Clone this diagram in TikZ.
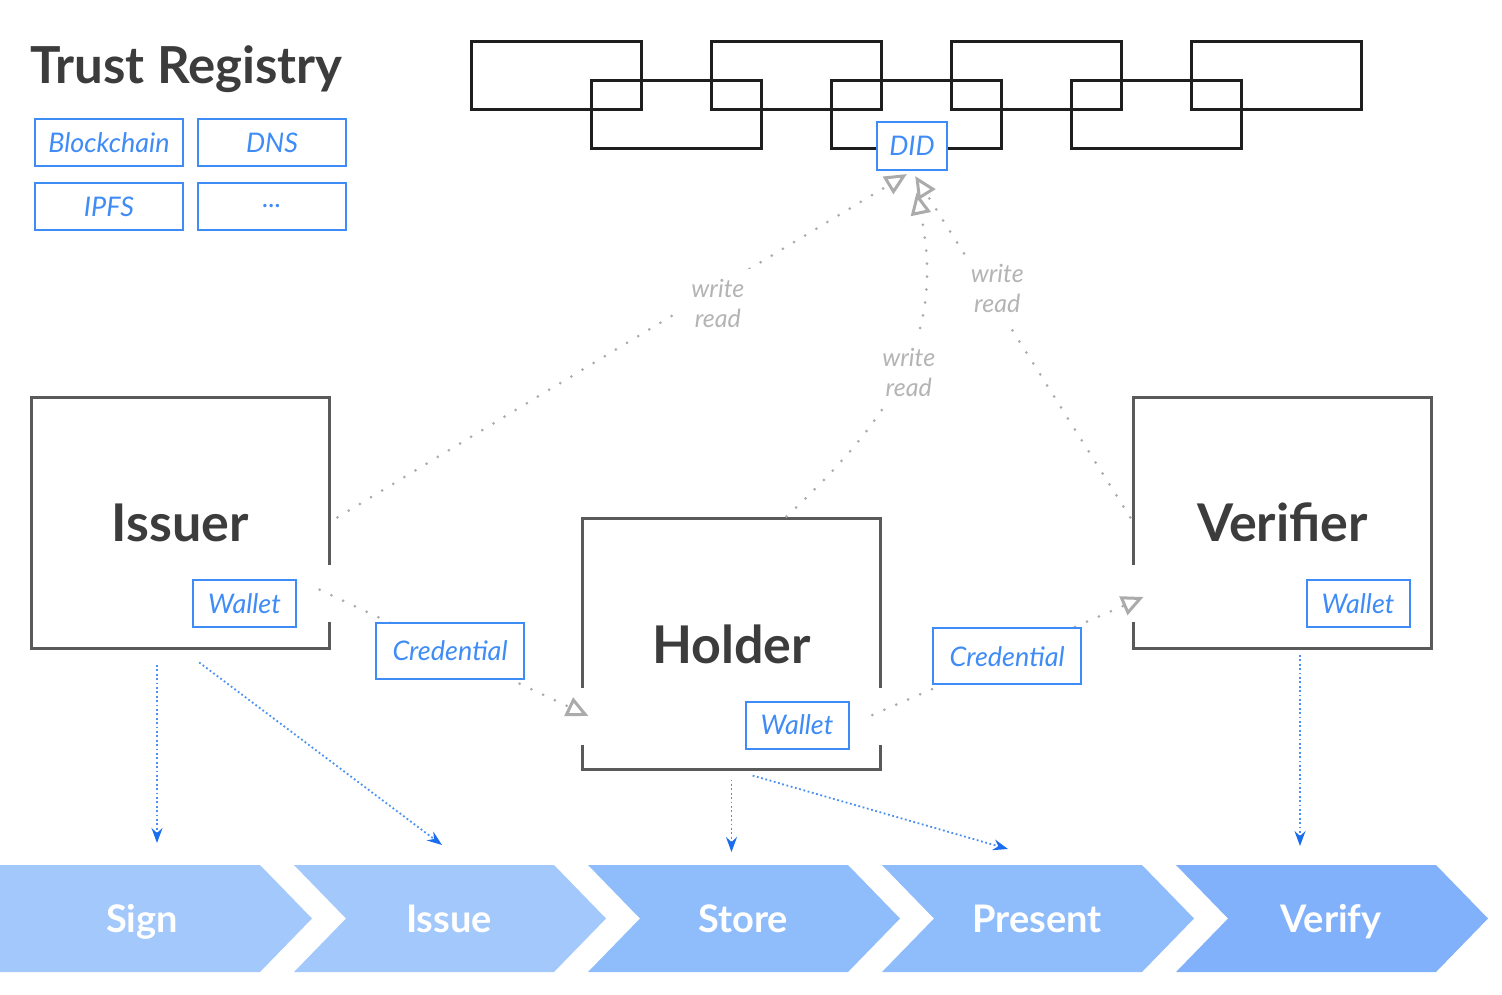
\documentclass[tikz,border=0pt]{standalone}
\usepackage{fontspec}
\setmainfont{Lato}
\usetikzlibrary{arrows.meta, positioning, calc}

\definecolor{regblue}{HTML}{3F8CF6}
\definecolor{framegray}{HTML}{5A5A5A}
\definecolor{blockgray}{HTML}{1E1E1E}
\definecolor{titlegray}{HTML}{3C3C3C}
\definecolor{dotgray}{HTML}{ABABAB}
\definecolor{labelgray}{HTML}{B4B4B4}
\definecolor{arrowblue}{HTML}{1A6EEE}
\definecolor{dotblue}{HTML}{4A90F2}
\definecolor{chevA}{HTML}{A3C8FC}
\definecolor{chevB}{HTML}{8FBCFB}
\definecolor{chevC}{HTML}{80B1FA}

\begin{document}
\begin{tikzpicture}[
    x=1pt, y=-1pt,
    % Styles
    registrytitle/.style={font=\bfseries\fontsize{51}{55}\selectfont, text=titlegray, inner sep=0pt},
    party/.style={minimum width=298pt, minimum height=251pt, outer sep=0pt,
                  font=\bfseries\fontsize{52}{56}\selectfont, text=titlegray},
    boxframe/.style={draw=framegray, line width=3pt},
    blockline/.style={draw=blockgray, line width=3pt},
    tag/.style={draw=regblue, solid, line width=2pt, fill=white, text=regblue, inner sep=0pt,
                font=\itshape\fontsize{27}{30}\selectfont},
    regtag/.style={tag, minimum width=148pt, minimum height=47pt},
    wallet/.style={tag, minimum width=103pt, minimum height=47pt},
    cred/.style={tag, minimum width=148pt, minimum height=56pt},
    rwline/.style={draw=dotgray, line width=3pt, line cap=round, dash pattern=on 0pt off 13pt,
                   -{Triangle[open, length=22pt, width=20pt, line width=3pt]}},
    rwlabel/.style={fill=white, text=labelgray, align=center, inner sep=10pt,
                    font=\itshape\fontsize{25}{30}\selectfont},
    flowline/.style={draw=dotblue, line width=1.8pt, dash pattern=on 1.8pt off 2.6pt,
                     -{Stealth[length=15pt, width=11pt, inset=5pt, arrowblue]}},
    steptext/.style={font=\bfseries\fontsize{38}{42}\selectfont, text=white, anchor=base}
]
    \useasboundingbox (0,0) rectangle (1502,994);

    % Trust registry
    \node[registrytitle, anchor=base west] (registry) at (30,83) {Trust Registry};
    \node[regtag] (blockchain) at (109,142.5) {Blockchain};
    \node[regtag, right=13pt of blockchain] (dns) {DNS};
    \node[regtag, below=15pt of blockchain] (ipfs) {IPFS};
    \node[regtag, below=15pt of dns] (more) {...};

    % Chain of blocks
    \foreach \k in {0,...,3}
        \draw[blockline] (471+240*\k,41) rectangle ++(170,68);
    \foreach \k in {0,...,2}
        \draw[blockline] (591+240*\k,80) rectangle ++(170,68);
    \node[tag, minimum width=70pt, minimum height=48pt] (did) at (912,146) {DID};

    % Parties
    \node[party] (issuer) at (180,522.5) {Issuer};
    \node[party] (holder) at (731.5,644) {Holder};
    \node[party] (verifier) at (1282.5,522.5) {Verifier};

    % Frames, open where the credentials pass
    \draw[boxframe] ([yshift=-42.5pt]issuer.east) -- (issuer.north east) -- (issuer.north west)
        -- (issuer.south west) -- (issuer.south east) -- ([yshift=26pt]issuer.south east);
    \draw[boxframe] ([yshift=-44pt]holder.west) -- (holder.north west) -- (holder.north east)
        -- ([yshift=-44pt]holder.east);
    \draw[boxframe] ([yshift=25pt]holder.south west) -- (holder.south west) -- (holder.south east)
        -- ([yshift=25pt]holder.south east);
    \draw[boxframe] ([yshift=-42.5pt]verifier.west) -- (verifier.north west) -- (verifier.north east)
        -- (verifier.south east) -- (verifier.south west) -- ([yshift=26pt]verifier.south west);

    % Wallets
    \node[wallet, above left=20pt and 32pt of issuer.south east] (iwallet) {Wallet};
    \node[wallet, above left=20pt and 31pt of holder.south east] (hwallet) {Wallet};
    \node[wallet, above left=20pt and 21pt of verifier.south east] (vwallet) {Wallet};

    % Write / read with the DID
    \draw[rwline, shorten <=10pt, shorten >=6pt] (issuer.east)
        -- node[rwlabel, pos=0.667, yshift=-15pt] (rwissuer) {write\\read} (did.south);
    \draw[rwline, shorten <=3pt, shorten >=22pt] ([xshift=53pt]holder.north)
        .. controls +(115,-108) and +(33,160) .. node[rwlabel, pos=0.5, xshift=5pt, yshift=-8pt] (rwholder) {write\\read} (did.south);
    \draw[rwline, shorten <=6pt, shorten >=6pt] (verifier.west)
        -- node[rwlabel, pos=0.665, xshift=11pt] (rwverifier) {write\\read} (did.south);

    % Credentials passed on
    \coordinate (hin) at ([xshift=6pt, yshift=-72pt]holder.west);
    \coordinate (vin) at ([xshift=10pt, yshift=-74.5pt]verifier.west);
    \draw[rwline, shorten <=25pt] (iwallet.north east) -- node[cred, pos=0.525] (cred1) {Credential} (hin);
    \draw[rwline, shorten <=25pt] (hwallet.east) -- node[cred, pos=0.536] (cred2) {Credential} (vin);

    % Steps
    \foreach \lx/\nt/\col/\px/\tx/\nm in {0/0/chevA/142/Sign/sign, 294/52/chevA/155/Issue/issue,
            588/52/chevB/155/Store/store, 882/52/chevB/155/Present/present, 1176/52/chevC/155/Verify/verify} {
        \fill[\col] (\lx,865) -- ++(260,0) -- ++(52,53.5) -- ++(-52,53.5) -- ++(-260,0)
            -- ++(\nt,-53.5) -- cycle;
        \node[steptext] (\nm) at (\lx+\px,932) {\tx};
    }

    % Flow into the steps
    \coordinate (sign in) at (157,843);
    \coordinate (issue in) at (442,845);
    \coordinate (store in) at (731.5,852);
    \coordinate (present in) at (1008,849);
    \coordinate (verify in) at (1300,846);
    \draw[flowline, shorten <=17pt] ([xshift=-23pt]issuer.south) -- (sign in);
    \draw[flowline, shorten <=24pt] (issuer.south) -- (issue in);
    \draw[flowline, shorten <=10pt] (holder.south) -- (store in);
    \draw[flowline, shorten <=22pt] (holder.south) -- (present in);
    \draw[flowline, shorten <=7pt] ([xshift=17.5pt]verifier.south) -- (verify in);
\end{tikzpicture}
\end{document}
